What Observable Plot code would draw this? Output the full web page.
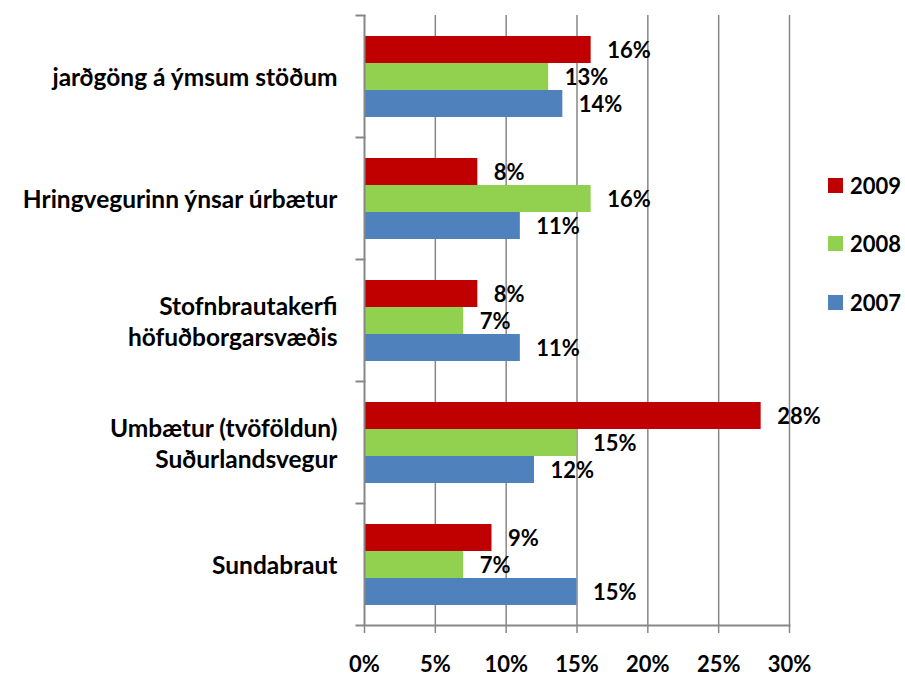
<!DOCTYPE html>
<html>
<head>
<meta charset="utf-8">
<script src="https://cdn.jsdelivr.net/npm/d3@7"></script>
<script src="https://cdn.jsdelivr.net/npm/@observablehq/plot@0.6"></script>
<style>
  body { margin: 0; background: #fff; }
  #wrap { position: relative; width: 905px; height: 679px; font-family: Lato, "DejaVu Sans", sans-serif; }
  .leg { position: absolute; left: 828px; display: flex; align-items: center; font-weight: bold; font-size: 22px; color: #000; }
  .leg span.sw { width: 15px; height: 15px; display: inline-block; margin-right: 7px; }
</style>
</head>
<body>
<div id="wrap"></div>
<script>
const categories = [
  "jarðgöng á ýmsum stöðum",
  "Hringvegurinn ýnsar úrbætur",
  "Stofnbrautakerfi\nhöfuðborgarsvæðis",
  "Umbætur (tvöföldun)\nSuðurlandsvegur",
  "Sundabraut"
];
const years = ["2009", "2008", "2007"];
const colors = ["#C00000", "#92D050", "#4F81BD"];
const values2009 = [16, 8, 8, 28, 9];
const values2008 = [13, 16, 7, 15, 7];
const values2007 = [14, 11, 11, 12, 15];
const xTicks = [0, 5, 10, 15, 20, 25, 30];

const series = {"2009": values2009, "2008": values2008, "2007": values2007};
const data = [];
categories.forEach((c, i) => years.forEach(y => data.push({cat: c, year: y, value: series[y][i]})));

const grid = "#878787";
const fontFamily = "Lato, 'DejaVu Sans', sans-serif";

const chart = Plot.plot({
  width: 905,
  height: 679,
  marginLeft: 364,
  marginRight: 116,
  marginTop: 13,
  marginBottom: 52,
  style: {fontFamily, background: "#fff", color: "#000"},
  x: {domain: [0, 30], label: null},
  y: {domain: years, paddingOuter: 0.75, paddingInner: 0, axis: null},
  fy: {domain: categories, padding: 0, label: null},
  color: {domain: years, range: colors},
  marks: [
    Plot.ruleX(xTicks.slice(1), {stroke: grid, strokeWidth: 1.5}),
    Plot.barX(data, {fy: "cat", y: "year", x: "value", fill: "year", insetTop: 0, insetBottom: 0}),
    Plot.text(data, {fy: "cat", y: "year", x: "value", text: d => d.value + "%", textAnchor: "start", dx: 16, dy: 1,
      fontSize: 22, fontWeight: "bold", fill: "#000"}),
    Plot.ruleX([0], {stroke: grid, strokeWidth: 2}),
    Plot.frame({anchor: "bottom", stroke: grid, strokeWidth: 2, facet: "super", insetLeft: -8}),
    Plot.frame({anchor: "top", stroke: grid, strokeWidth: 2, insetLeft: -8, insetRight: 425}),
    Plot.axisX({ticks: xTicks, tickFormat: d => d + "%", tickSize: 8, tickPadding: 23, stroke: grid, strokeWidth: 1.5,
      fontSize: 22, fontWeight: "bold", fill: "#000"}),
    Plot.axisFy({anchor: "left", tickSize: 0, tickPadding: 27, fontSize: 24.5, fontWeight: "bold", lineHeight: 1.27, fill: "#000", label: null})
  ]
});
const wrap = document.getElementById("wrap");
wrap.appendChild(chart);

const legTops = [185, 243, 302];
years.forEach((y, i) => {
  const d = document.createElement("div");
  d.className = "leg";
  d.style.top = (legTops[i] - 14) + "px";
  d.style.height = "28px";
  d.innerHTML = `<span class="sw" style="background:${colors[i]}"></span>${y}`;
  wrap.appendChild(d);
});
</script>
</body>
</html>
